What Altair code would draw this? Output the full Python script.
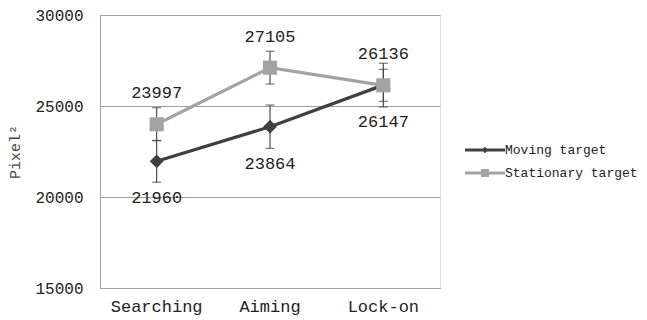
import altair as alt
import pandas as pd

phases = ["Searching", "Aiming", "Lock-on"]
series_names = ["Moving target", "Stationary target"]
moving = [21960, 23864, 26147]
moving_err = [1150, 1190, 1200]
stationary = [23997, 27105, 26136]
stationary_err = [910, 900, 880]
colors = ["#404040", "#a3a3a3"]

rows = []
for s, vals, errs in [(series_names[0], moving, moving_err), (series_names[1], stationary, stationary_err)]:
    for p, v, e in zip(phases, vals, errs):
        rows.append({"phase": p, "series": s, "leg": s, "value": v, "lo": v - e, "hi": v + e})
df = pd.DataFrame(rows)

FONT = "Liberation Mono"
leg_paths = [
    "M-2.5,-0.19H2.5V0.19H-2.5Z M0,-0.42L0.42,0L0,0.42L-0.42,0Z",
    "M-2.5,-0.19H2.5V0.19H-2.5Z M-0.5,-0.5H0.5V0.5H-0.5Z",
]

x = alt.X("phase:N", sort=phases, title=None,
          scale=alt.Scale(paddingInner=0, paddingOuter=0),
          axis=alt.Axis(labelAngle=0, labelFont=FONT, labelFontSize=17, labelColor="#222",
                        domainColor="#a0a0a0", ticks=False, labelPadding=10, grid=False))
y = alt.Y("value:Q", title="Pixel²",
          scale=alt.Scale(domain=[15000, 30000], nice=False, zero=False),
          axis=alt.Axis(values=[15000, 20000, 25000, 30000], format="d", labelFont=FONT, labelFontSize=16,
                        labelColor="#222", ticks=False, labelPadding=17, domainColor="#a0a0a0",
                        gridColor="#a0a0a0", titleFont=FONT, titleFontSize=15, titleFontWeight="normal",
                        titleColor="#444", titlePadding=12))

base = alt.Chart(df)
moving_df = base.transform_filter(alt.datum.series == series_names[0])
stat_df = base.transform_filter(alt.datum.series == series_names[1])

err_rule = base.mark_rule(color="#404040", strokeWidth=1.1).encode(x=x, y=alt.Y("lo:Q"), y2="hi:Q")
err_lo = base.mark_tick(color="#404040", size=9, thickness=1.2).encode(x=x, y=alt.Y("lo:Q"))
err_hi = base.mark_tick(color="#404040", size=9, thickness=1.2).encode(x=x, y=alt.Y("hi:Q"))

line_m = moving_df.mark_line(strokeWidth=3.2, color=colors[0]).encode(x=x, y=y)
line_s = stat_df.mark_line(strokeWidth=3.2, color=colors[1]).encode(x=x, y=y)

pts_m = moving_df.mark_point(shape="diamond", filled=True, size=190, opacity=1, color=colors[0]).encode(x=x, y=y)
pts_s = stat_df.mark_point(shape="square", filled=True, size=200, opacity=1, color=colors[1]).encode(x=x, y=y)

txt_m = moving_df.mark_text(font=FONT, fontSize=17, color="#222", dy=37).encode(
    x=x, y=y, text=alt.Text("value:Q", format="d"))
txt_s = stat_df.mark_text(font=FONT, fontSize=17, color="#222", dy=-31).encode(
    x=x, y=y, text=alt.Text("value:Q", format="d"))

leg_opts = dict(orient="none", legendX=377, legendY=127, labelFont=FONT,
                labelFontSize=13, labelColor="#222", symbolSize=256, labelLimit=0,
                symbolOpacity=1, symbolStrokeWidth=0, labelOffset=12, rowPadding=8)

leg_layer = base.mark_point(filled=True, opacity=0).encode(
    x=x, y=y,
    color=alt.Color("leg:N", scale=alt.Scale(domain=series_names, range=colors), title=None,
                    legend=alt.Legend(**leg_opts)),
    shape=alt.Shape("leg:N", scale=alt.Scale(domain=series_names, range=leg_paths), title=None,
                    legend=alt.Legend(**leg_opts)),
)

chart = alt.layer(err_rule, err_lo, err_hi, line_m, line_s, pts_m, pts_s, txt_m, txt_s, leg_layer).properties(
    width=340, height=273,
    autosize=alt.AutoSizeParams(type="none"),
    padding={"left": 92, "top": 7, "right": 199, "bottom": 30},
).configure_view(stroke=None).configure(background="white")

chart.save("out.html", embed_options={"renderer": "svg", "actions": False})
